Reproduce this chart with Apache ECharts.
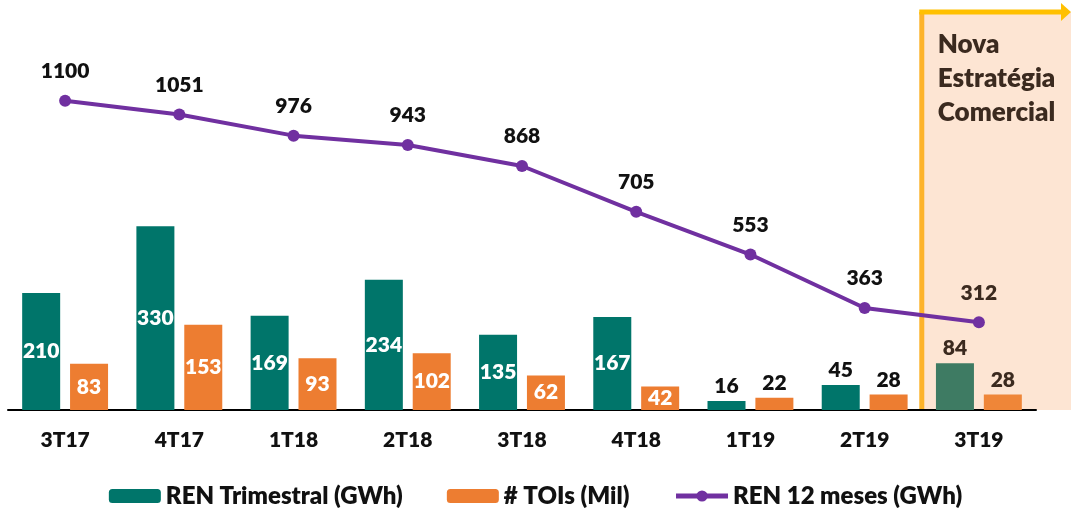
<!DOCTYPE html>
<html>
<head>
<meta charset="utf-8">
<script src="https://cdn.jsdelivr.net/npm/echarts@6/dist/echarts.min.js"></script>
<style>
    html, body { margin: 0; padding: 0; background: #fff; }
    #chart { width: 1071px; height: 517px; }
</style>
</head>
<body>
<div id="chart"></div>
<script>
const categories = ['3T17', '4T17', '1T18', '2T18', '3T18', '4T18', '1T19', '2T19', '3T19']
const renTrimestral = [210, 330, 169, 234, 135, 167, 16, 45, 84]
const tois = [83, 153, 93, 102, 62, 42, 22, 28, 28]
const ren12 = [1100, 1051, 976, 943, 868, 705, 553, 363, 312]

const font = 'Lato, "Noto Sans", sans-serif'
const weight = 800
const teal = '#00756A'
const orange = '#ED7D31'
const purple = '#7030A0'
const lastIdx = categories.length - 1

// short bars and the highlighted quarter get their label above the bar
function barData(values, color, lastColor, minInside) {
    return values.map((v, i) => {
        const outside = v < minInside || i === lastIdx
        return {
            value: v,
            itemStyle: { color: i === lastIdx ? lastColor : color },
            label: outside
                ? { position: 'top', distance: 4, color: i === lastIdx ? '#3b2a1f' : '#111' }
                : { position: 'inside', color: '#fff' }
        }
    })
}

const chart = echarts.init(document.getElementById('chart'))

chart.setOption({
    animation: false,
    textStyle: { fontFamily: font },
    grid: { left: 8, right: 35, top: 10, bottom: 107 },
    legend: {
        bottom: 4,
        left: 'center',
        itemWidth: 52,
        itemHeight: 14,
        itemGap: 44,
        textStyle: { fontSize: 24, fontWeight: weight, color: '#111', fontFamily: font },
        data: [
            'REN Trimestral (GWh)',
            '# TOIs (Mil)',
            { name: 'REN 12 meses (GWh)', lineStyle: { width: 5 } }
        ]
    },
    xAxis: {
        type: 'category',
        data: categories,
        axisLine: { lineStyle: { color: '#000', width: 2 } },
        axisTick: { show: false },
        axisLabel: { margin: 20, fontSize: 21, fontWeight: weight, color: '#111' }
    },
    yAxis: [
        { type: 'value', min: 0, max: 718, show: false, splitLine: { show: false } },
        { type: 'value', min: 0, max: 1423, show: false, splitLine: { show: false } }
    ],
    series: [
        {
            name: 'REN Trimestral (GWh)',
            type: 'bar',
            barWidth: 38,
            barGap: '26%',
            itemStyle: { color: teal },
            label: { show: true, fontSize: 21, fontWeight: weight },
            data: barData(renTrimestral, teal, '#3E7B63', 50)
        },
        {
            name: '# TOIs (Mil)',
            type: 'bar',
            barWidth: 38,
            itemStyle: { color: orange },
            label: { show: true, fontSize: 21, fontWeight: weight },
            data: barData(tois, orange, '#EF8638', 30)
        },
        {
            name: 'REN 12 meses (GWh)',
            type: 'line',
            yAxisIndex: 1,
            symbol: 'circle',
            symbolSize: 12,
            lineStyle: { width: 4, color: purple },
            itemStyle: { color: purple },
            label: {
                show: true, position: 'top', distance: 13,
                fontSize: 21, fontWeight: weight, color: '#111'
            },
            data: ren12.map((v, i) => i === lastIdx ? { value: v, label: { color: '#3b2a1f' } } : v),
            z: 3
        }
    ]
})

// "Nova Estratégia Comercial" box over the last quarter
const first = chart.convertToPixel({ xAxisIndex: 0 }, categories[0])
const last = chart.convertToPixel({ xAxisIndex: 0 }, categories[lastIdx])
const band = (last - first) / (categories.length - 1)
const x0 = last - band / 2
const yBase = chart.convertToPixel({ yAxisIndex: 0 }, 0)
const W = chart.getWidth()

chart.setOption({
    graphic: [
        {
            type: 'rect', z: -10, silent: true,
            shape: { x: x0, y: 12, width: W - x0, height: yBase - 12 },
            style: { fill: '#FDE5D3' }
        },
        {
            type: 'line', z: -5, silent: true,
            shape: { x1: x0, y1: 12, x2: x0, y2: yBase },
            style: { stroke: '#FDB32A', lineWidth: 5 }
        },
        {
            type: 'line', z: -5, silent: true,
            shape: { x1: x0 - 2.5, y1: 12, x2: W - 10, y2: 12 },
            style: { stroke: '#FFC000', lineWidth: 5 }
        },
        {
            type: 'polygon', z: -5, silent: true,
            shape: { points: [[W - 10, 3], [W, 12], [W - 10, 21]] },
            style: { fill: '#FFC000' }
        },
        {
            type: 'text', z: 10, silent: true,
            left: x0 + 16, top: 28,
            style: {
                text: 'Nova\nEstratégia\nComercial',
                font: weight + ' 26px ' + font,
                lineHeight: 34,
                fill: '#3b2a1f'
            }
        }
    ]
})
</script>
</body>
</html>
